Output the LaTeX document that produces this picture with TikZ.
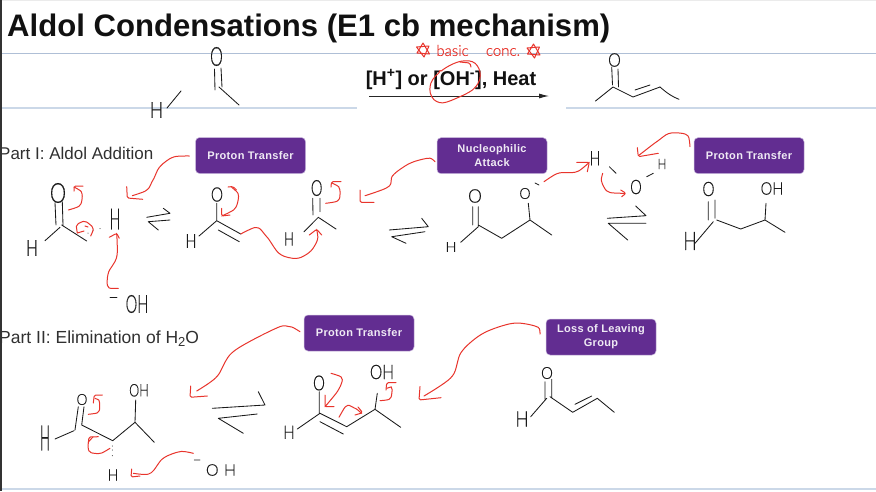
\documentclass[tikz,border=0pt]{standalone}
\usepackage{fontspec}
\usetikzlibrary{arrows.meta}
\setmainfont{Liberation Sans}
\newfontfamily\handfont{Lato Light}[FakeBold=0.35]
\definecolor{inkred}{HTML}{E8342C}
\definecolor{inkblk}{HTML}{1A1A1A}
\definecolor{purp}{HTML}{622D91}
\definecolor{purpedge}{HTML}{C9B8DC}
\definecolor{rulea}{HTML}{AFBFD6}
\definecolor{ruleb}{HTML}{CBD8E8}
\definecolor{headtxt}{HTML}{111111}
\definecolor{parttxt}{HTML}{303030}
\tikzset{
  bond/.style={draw=inkblk,line width=0.85pt,line cap=round,line join=round},
  redink/.style={draw=inkred,line width=1pt,line cap=round,line join=round,rounded corners=1.5pt},
  hand/.style={inner sep=0pt,text=inkblk,font=\handfont\fontsize{16}{16}\selectfont},
  atomo/.style n args={2}{hand,transform shape,xscale=#1/6.2,yscale=#2/5.8},
  atomh/.style n args={2}{hand,transform shape,xscale=#1/5.8,yscale=#2/5.8},
  atomw/.style n args={2}{hand,transform shape,xscale=#1/12,yscale=#2/5.8},
  redtxt/.style={inner sep=0pt,text=inkred,font=\handfont\fontsize{15}{15}\selectfont},
  tag/.style={rounded corners=4pt,fill=purp,draw=purpedge,line width=0.5pt,minimum width=110pt,minimum height=36pt,
    inner sep=0pt,align=center,text=white!90!purp,font=\bfseries\fontsize{11}{14}\selectfont\addfontfeature{LetterSpace=3},
    execute at begin node={\vspace*{2pt}}},
  parttitle/.style={anchor=base west,inner sep=0pt,text=parttxt,font=\fontsize{17}{20}\selectfont},
}
\begin{document}
\begin{tikzpicture}[x=1pt,y=-1pt]
\useasboundingbox (0,0) rectangle (876,491);
\fill[white] (0,0) rectangle (876,491);
% page rules
\fill[black!8] (0,0) rectangle (876,1);
\draw[rulea,line width=0.8pt] (2,53) -- (876,53);
\draw[ruleb,line width=1.4pt] (2,108) -- (357,108);
\draw[ruleb,line width=1.4pt] (566,108) -- (876,108);
\draw[ruleb,line width=1.2pt] (2,489) -- (876,489);
% headings
\node[anchor=base west,inner sep=0pt,text=headtxt,font=\bfseries\fontsize{31.1}{32}\selectfont] (title) at (7,36.5) {Aldol Condensations (E1 cb mechanism)};
\node[parttitle] (part1) at (-1,159) {Part I: Aldol Addition};
\node[parttitle,font=\fontsize{17.5}{20}\selectfont] (part2) at (-1,343) {Part II: Elimination of H\raisebox{-3.5pt}{\fontsize{13}{13}\selectfont 2}O};
\fill[black!80] (0,0) rectangle (2,491);
% tags
\node[tag] (tag1) at (250.5,155.5) {Proton Transfer};
\node[tag] (tag2) at (492,155.7) {Nucleophilic\\Attack};
\node[tag] (tag3) at (749,155.7) {Proton Transfer};
\node[tag] (tag4) at (359,333) {Proton Transfer};
\node[tag] (tag5) at (601,337) {Loss of Leaving\\Group};
% overall reaction: reactant
\node[atomo={6.3}{9.5}] (ro) at (216.5,56.5) {O};
\node[atomh={6.5}{8}] (rh) at (156.5,110) {H};
\draw[bond] (214.5,69) -- (215,90) (221,68) -- (222,87) (219,87) -- (239,105) (181,91) -- (167,108);
% reagents
\node[anchor=base,inner sep=0pt,text=headtxt,font=\bfseries\fontsize{20}{22}\selectfont] (reag) at (451,85) {[H\textsuperscript{+}] or [OH\textsuperscript{-}], Heat};
\coordinate (arrA) at (369,96);
\coordinate (arrB) at (549,96);
\draw[-{Latex[length=10pt,width=5pt]},line width=0.9pt,draw=black!85] (arrA) -- (arrB);
\draw[redink] plot[smooth cycle,tension=.7] coordinates {(430,88)(440,72)(463,61)(478,67)(477,85)(457,98)(438,102)};
\draw[redink] (460,62) -- (470,63) -- (471,67);
\node[redtxt] (basic) at (452.5,50.5) {basic};
\node[redtxt] (conc) at (503,52) {conc.};
\foreach \sx/\sy in {423/50,533.5/51}{
  \draw[redink,rounded corners=0pt] (\sx-6,\sy+3) -- (\sx+6.5,\sy+4) -- (\sx,\sy-7) -- cycle;
  \draw[redink,rounded corners=0pt] (\sx-6.5,\sy-3) -- (\sx+6,\sy-4) -- (\sx+1,\sy+7) -- cycle;
}
% overall reaction: product
\node[atomo={6.3}{6.8}] (po) at (614.5,60) {O};
\draw[bond] (611.7,67) -- (612.5,85) (618,69) -- (618.5,87) (595.5,101) -- (613,87) -- (633,97) -- (660,87)
  (635,90) -- (650,85);
\draw[bond] (660,87) .. controls (668,94) and (673,97) .. (679,99.3);
% Part I, molecule 1
\node[atomo={8}{10}] (a1o) at (58,193) {O};
\node[atomh={5.7}{8}] (a1h) at (32,248) {H};
\node[atomh={5}{10.5}] (a1h2) at (115,219) {H};
\draw[bond] (55,202.7) -- (56,225) (62.3,201.7) -- (63,225) (45,240.7) -- (60,227.3) (61.7,225) -- (86.7,241);
\fill[inkblk] (93,230) circle (0.5) (100,228.5) circle (0.5) (88,233) circle (0.5);
\node[atomw={11}{9}] (a1oh) at (137,304) {OH};
\draw[bond] (110,297.7) -- (117,297.7);
\draw[redink] plot[smooth] coordinates {(68.3,210)(80,205)(81.7,193)(74,187)};
\draw[redink] (74,191) -- (74,186) -- (83,186);
\draw[redink] plot[smooth] coordinates {(90.7,236)(92.7,228)(85,221.7)(77.3,225)(77.3,233)};
\draw[redink] (77.3,233) -- (84,231) (85,226) -- (88,227);
\draw[redink] plot[smooth] coordinates {(189.3,156)(173,157.3)(160,166.7)(153,180)(146.7,190)(132.3,195.7)};
\draw[redink] (126.7,186.7) -- (127.3,198) -- (142.7,199.3);
\draw[redink] plot[smooth] coordinates {(118.3,288.3)(108.3,286.7)(108.3,273.3)(116.7,256.7)(116.7,233.3)};
\draw[redink] (109.3,237.3) -- (116.7,233.3) -- (119.3,238.3);
% equilibrium 1
\draw[bond] (146.7,217.3) -- (170,213.3) -- (163.3,208.3) (158.3,230) -- (148.3,221.7) -- (170,220);
% Part I, enolate
\node[atomo={6}{7.2}] (a2o) at (217,194.5) {O};
\node[atomh={5.3}{7}] (a2h) at (191,241) {H};
\draw[bond] (216.7,203.3) -- (216.7,220.7) (199,236) -- (216.7,220.7) -- (240.7,234) (218.3,230) -- (239.3,241.7);
\draw[redink] plot[smooth] coordinates {(231.7,187.3)(238.3,195)(235,208.3)(221.7,216)};
\draw[redink] (221.7,208.3) -- (221.7,216) -- (230,215) (228,187) -- (233,186.5) -- (236.5,190);
\draw[redink] plot[smooth] coordinates {(240.7,234)(256.7,227.7)(266.7,236.7)(280,254)(296.7,258.3)(310,251.7)(317.3,240)(316.7,229.3)};
\draw[redink] (309.3,235) -- (316.7,229.3) -- (321.7,235);
% Part I, ketone
\node[atomo={5.7}{8}] (a3o) at (316.7,188) {O};
\node[atomh={4.8}{6.7}] (a3h) at (289,239) {H};
\draw[bond] (312.7,198.3) -- (313,215) (320,198.3) -- (320,211.7) (304,231.7) -- (318.3,217.3) -- (336,229);
\draw[redink] plot[smooth] coordinates {(325.7,203.3)(338.3,200)(339.3,188.3)(332,183)};
\draw[redink] (331,187) -- (331.5,181.7) -- (341,181.7);
\draw[redink] plot[smooth] coordinates {(435,161.7)(428.3,158.3)(410,163.3)(393.3,175)(388.3,186.7)(365,195.7)};
\draw[redink] (360,190) -- (360,202.3) -- (374,202.3);
% equilibrium 2
\draw[bond] (389.3,230) -- (428.3,226.7) -- (421.7,218.3) (406,243.3) -- (391.7,236.7) -- (425,231.7);
% Part I, alkoxide
\node[atomo={6.8}{6.8}] (a4o) at (475,196) {O};
\node[atomo={5.5}{5.5}] (a4o2) at (525,193.5) {O};
\node[atomh={5.3}{5}] (a4h) at (451,247) {H};
\draw[bond] (472.7,206.7) -- (472.7,225) (478.3,206.7) -- (478.3,226.7) (460.7,242.3) -- (478.3,226.7)
  (478.3,225) -- (501.7,238.3) -- (530,220) -- (551.7,235) (530,220) -- (528.3,203.3) (535,183) -- (539,185);
\draw[redink] plot[smooth] coordinates {(544,181.7)(558.3,173.3)(576.7,171.7)(589.3,162.3)};
\draw[redink] (576.7,162.3) -- (589.3,162.3) -- (587.3,171.7);
% Part I, water
\node[atomh={5}{7.3}] (wh1) at (595,158.3) {H};
\node[atomo={5.7}{7.2}] (wo) at (636,187) {O};
\node[atomh={4.2}{5.3}] (wh2) at (662,164) {H};
\draw[bond] (609.3,166.7) -- (616,173.3) (646.7,176.7) -- (653.3,173.3);
\draw[redink] plot[smooth] coordinates {(602.7,173.3)(601.7,181.7)(608.3,191.7)(625,193.3)};
\draw[redink] (620.7,190) -- (626,193.3) -- (621.7,196.7);
\draw[redink] plot[smooth] coordinates {(690,146.7)(686.7,135)(670,133.3)(656.7,141.7)(639.3,155)};
\draw[redink] (637.3,147.7) -- (638.3,156.7) -- (658.3,153.3);
% equilibrium 3
\draw[bond] (607.3,218.3) -- (646,215.7) -- (635.7,206) (646,223.3) -- (608.3,223.3) -- (627.7,240);
% Part I, aldol
\node[atomo={6}{7.2}] (a5o) at (708.5,189) {O};
\node[atomh={6.3}{9.2}] (a5h) at (690,241) {H};
\node[atomw={11}{6.3}] (a5oh) at (772,188.5) {OH};
\draw[bond] (708.3,201.7) -- (708.3,220) (715,200) -- (715,218.3) (695,243.3) -- (713.3,221.7)
  (716.7,220) -- (740.7,229) -- (765,220) -- (785,232.3) (765,220) -- (766,203.3);
% Part II, aldol
\node[atomo={5.3}{5.5}] (b1o) at (82,399.5) {O};
\node[atomh={4.7}{12.8}] (b1h) at (45,438) {H};
\node[atomw={9.5}{6.3}] (b1oh) at (139,390.3) {OH};
\node[atomh={5}{5.7}] (b1h2) at (113,475) {H};
\node[hand] (b1oh2) at (221,470) {O\,\,H};
\draw[bond] (75,430) -- (78.3,406.7) (81.7,425) -- (84,406.7) (55,439) -- (74,430.7) (81.7,425) -- (112.7,440.7)
  -- (135,422.3) -- (154.3,442.3) (135,422.3) -- (135.7,400) (194.3,460) -- (200,460);
\fill[inkblk] (112.3,446) circle (0.5) (112.3,450) circle (0.5) (112.3,455.7) circle (0.5);
\draw[redink] plot[smooth] coordinates {(88.3,414.3)(98.3,411.7)(99.3,401.7)(95,398.3)};
\draw[redink] (93.3,403) -- (94.3,395) -- (102.3,395);
\draw[redink] plot[smooth] coordinates {(110,448.3)(100,453.3)(90,451.7)(88.3,443.3)(93,437)};
\draw[redink] (88.3,443) -- (89,437) -- (98.3,436.7);
\draw[redink] plot[smooth] coordinates {(193.3,453.3)(180,451.7)(163.3,458.3)(150,473.3)(133.3,473.3)};
\draw[redink] (131.7,469) -- (131,477) -- (140,476);
\draw[redink] plot[smooth] coordinates {(300,331.7)(290,326.7)(276.7,328)(233.3,351.7)(216.7,376.7)(196.7,391)};
\draw[redink] (190.7,386) -- (190,397.3) -- (207.3,396);
% equilibrium 4
\draw[bond] (212.3,408.3) -- (265,405) -- (258.3,391.7) (257.3,414) -- (218.3,418.3) -- (243.3,433.3);
% Part II, enolate
\node[atomo={5.8}{7.5}] (b2o) at (319,383) {O};
\node[atomh={5.5}{6.7}] (b2h) at (289,432.3) {H};
\node[atomw={11.7}{7.2}] (b2oh) at (382,372) {OH};
\draw[bond] (319.3,391.7) -- (319.3,413.3) (297.3,429) -- (320,413.3) -- (346.7,426.7) -- (375,409.3) -- (400.7,427.3)
  (320,421.7) -- (343.3,434) (375,409.3) -- (377.3,393.3);
\draw[redink] plot[smooth] coordinates {(331,373.3)(341.7,378.3)(338.3,390)(325,406.7)};
\draw[redink] (325,395) -- (325,406.7) -- (334,406.7);
\draw[redink] plot[smooth] coordinates {(339,417.3)(346.7,406)(355,408.3)(361.7,413.3)};
\draw[redink] (355,415) -- (362.7,412.7) -- (358,407);
\draw[redink] plot[smooth] coordinates {(380,400.7)(390,398.3)(391.7,388.3)(386.7,388.3)};
\draw[redink] (386,390) -- (386.7,382.7) -- (396,382.7);
\draw[redink] plot[smooth] coordinates {(540,334)(536.7,326.7)(513.3,323.3)(483.3,333.3)(461.7,351.7)(451.7,376.7)(424,396)};
\draw[redink] (420,386.7) -- (419,400) -- (441,397.7);
% Part II, enal
\node[atomo={5.8}{6}] (b3o) at (547,373) {O};
\node[atomh={6.3}{7.8}] (b3h) at (522,419) {H};
\draw[bond] (545,381.7) -- (545,399.3) (551.7,379.3) -- (551.7,397.3) (530.7,416.7) -- (546.7,398.3)
  (550,396.7) -- (572.7,412.3) -- (597.3,398.3) -- (614.3,412.3) (575,404.3) -- (591.7,396);
\end{tikzpicture}
\end{document}
